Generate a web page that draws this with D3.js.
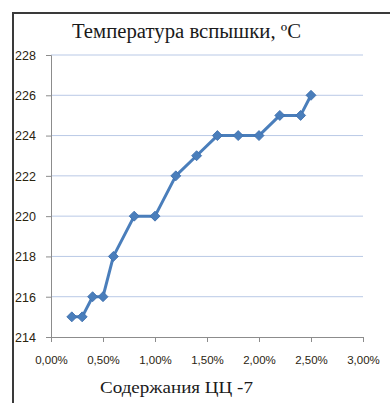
<!DOCTYPE html>
<html><head><meta charset="utf-8">
<script src="https://cdn.jsdelivr.net/npm/d3@7"></script>
<style>body{margin:0;background:#fff}svg{display:block}.serif{font-family:"Liberation Serif","DejaVu Serif","Times New Roman",serif}</style>
</head><body>
<svg id="c" width="390" height="403"></svg>
<script>
const content = [0.2,0.3,0.4,0.5,0.6,0.8,1.0,1.2,1.4,1.6,1.8,2.0,2.2,2.4,2.5];
const flashTemp = [215,215,216,216,218,220,220,222,223,224,224,224,225,225,226];
const xTicks = [0,0.5,1.0,1.5,2.0,2.5,3.0];
const yTicks = [214,216,218,220,222,224,226,228];
const title = "Температура вспышки, ºC";
const xTitle = "Содержания ЦЦ -7";

const svg = d3.select("#c");
const x = d3.scaleLinear().domain([0,3]).range([51,363]);
const y = d3.scaleLinear().domain([214,228]).range([337,55]);

svg.append("path").attr("d","M13,403 V13 H392").attr("fill","none").attr("stroke","#3a3a3a").attr("stroke-width",2);

svg.append("g").selectAll("line").data(yTicks.slice(1)).join("line")
  .attr("x1",x(0)).attr("x2",x(3)).attr("y1",d=>y(d)).attr("y2",d=>y(d))
  .attr("stroke","#b9c9e6").attr("stroke-width",1);

const fmt = d => d.toFixed(2).replace(".",",") + "%";
const xa = svg.append("g").attr("transform",`translate(0,${y(214)})`)
  .call(d3.axisBottom(x).tickValues(xTicks).tickFormat(fmt).tickSize(5).tickPadding(14));
const ya = svg.append("g").attr("transform",`translate(${x(0)},0)`)
  .call(d3.axisLeft(y).tickValues(yTicks).tickSize(5).tickPadding(6));
[xa,ya].forEach(a=>{
  a.select(".domain").attr("stroke","#8c8c8c");
  a.selectAll(".tick line").attr("stroke","#8c8c8c");
  a.selectAll("text").attr("fill","#2b2410").attr("font-family","'Liberation Sans', Arial, sans-serif");
});
xa.selectAll("text").attr("font-size",11.5);
ya.selectAll("text").attr("font-size",12.5).attr("text-anchor","start").attr("x",-36).attr("dy","0.35em");

const pts = content.map((c,i)=>[c,flashTemp[i]]);
svg.append("path").datum(pts)
  .attr("d",d3.line().x(d=>x(d[0])).y(d=>y(d[1])))
  .attr("fill","none").attr("stroke","#4a7ebb").attr("stroke-width",3).attr("stroke-linejoin","round");
svg.append("g").selectAll("path").data(pts).join("path")
  .attr("d",d3.symbol(d3.symbolSquare, 50))
  .attr("transform",d=>`translate(${x(d[0])},${y(d[1])}) rotate(45)`)
  .attr("fill","#4a7ebb").attr("stroke","#3d6fae").attr("stroke-width",0.8);

svg.append("text").attr("class","serif").attr("x",72).attr("y",38)
  .attr("font-size",20).attr("textLength",229).attr("lengthAdjust","spacingAndGlyphs")
  .attr("fill","#1a1a1a").text(title);
svg.append("text").attr("class","serif").attr("x",100).attr("y",393)
  .attr("font-size",17).attr("textLength",153).attr("lengthAdjust","spacingAndGlyphs")
  .attr("fill","#1a1a1a").text(xTitle);
</script>
</body></html>
